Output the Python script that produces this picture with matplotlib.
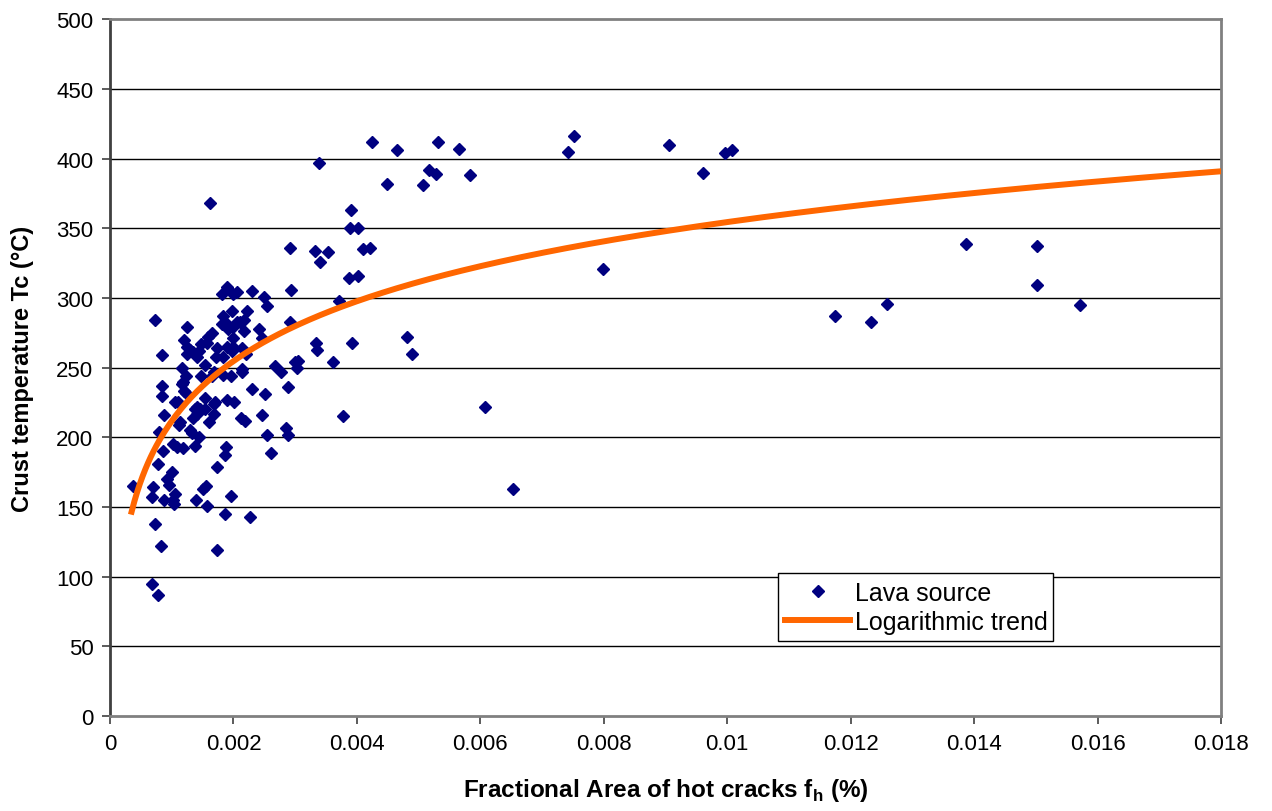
import numpy as np
import matplotlib
matplotlib.use("Agg")
import matplotlib.pyplot as plt

plt.rcParams["font.family"] = ["Liberation Sans", "DejaVu Sans"]
plt.rcParams["mathtext.fontset"] = "custom"
plt.rcParams["mathtext.rm"] = "Liberation Sans"
plt.rcParams["mathtext.bf"] = "Liberation Sans:bold"

# Lava source points: fractional area of hot cracks, crust temperature (deg C)
fh = [
    0.00425, 0.00465, 0.00532, 0.00566, 0.00339, 0.00449, 0.00507, 0.00517, 0.00528, 0.00583,
    0.00742, 0.00752, 0.00906, 0.00961, 0.00997, 0.01008, 0.00799, 0.00653, 0.00608, 0.00481,
    0.00489, 0.00378, 0.00391, 0.00389, 0.00402, 0.00387, 0.00402, 0.00292, 0.00332, 0.00353,
    0.00340, 0.00410, 0.00421, 0.00371, 0.00334, 0.00335, 0.00392, 0.00361, 0.00162, 0.01175,
    0.01233, 0.01259, 0.01387, 0.01501, 0.01501, 0.01572, 0.00293, 0.00292, 0.00300, 0.00305,
    0.00303, 0.00277, 0.00267, 0.00288, 0.00285, 0.00288, 0.00261, 0.00246, 0.00254, 0.00227,
    0.00250, 0.00254, 0.00230, 0.00206, 0.00222, 0.00217, 0.00211, 0.00206, 0.00241, 0.00217,
    0.00246, 0.00214, 0.00214, 0.00230, 0.00251, 0.00212, 0.00219, 0.00190, 0.00182, 0.00199,
    0.00073, 0.00125, 0.00198, 0.00183, 0.00186, 0.00182, 0.00191, 0.00165, 0.00159, 0.00120,
    0.00125, 0.00130, 0.00147, 0.00144, 0.00141, 0.00125, 0.00173, 0.00190, 0.00172, 0.00183,
    0.00084, 0.00117, 0.00154, 0.00123, 0.00117, 0.00147, 0.00165, 0.00183, 0.00084, 0.00084,
    0.00118, 0.00199, 0.00199, 0.00220, 0.00169, 0.00196, 0.00214, 0.00105, 0.00110, 0.00123,
    0.00154, 0.00170, 0.00190, 0.00201, 0.00088, 0.00113, 0.00138, 0.00141, 0.00141, 0.00135,
    0.00154, 0.00160, 0.00169, 0.00079, 0.00129, 0.00133, 0.00144, 0.00086, 0.00102, 0.00109,
    0.00118, 0.00138, 0.00188, 0.00186, 0.00173, 0.00078, 0.00100, 0.00092, 0.00096, 0.00037,
    0.00070, 0.00068, 0.00088, 0.00105, 0.00102, 0.00104, 0.00156, 0.00151, 0.00196, 0.00139,
    0.00157, 0.00186, 0.00073, 0.00083, 0.00173, 0.00068, 0.00078, 0.00169, 0.00112, 0.00157,
    0.00200, 0.00135, 0.00197, 0.00120, 0.00146,
]
tc = [
    412, 406, 412, 407, 397, 382, 381, 392, 389, 388,
    405, 416, 410, 390, 404, 406, 321, 163, 222, 272,
    260, 215, 363, 350, 350, 314, 316, 336, 334, 333,
    326, 335, 336, 298, 268, 263, 268, 254, 368, 287,
    283, 296, 339, 337, 309, 295, 306, 283, 254, 255,
    250, 247, 251, 236, 207, 202, 189, 216, 202, 143,
    301, 294, 305, 304, 291, 284, 283, 283, 278, 276,
    271, 264, 249, 235, 231, 214, 212, 308, 303, 303,
    284, 279, 291, 287, 283, 281, 278, 275, 272, 270,
    265, 263, 267, 262, 258, 260, 264, 265, 258, 258,
    259, 250, 252, 244, 238, 244, 244, 245, 237, 230,
    240, 271, 265, 260, 247, 244, 247, 225, 225, 232,
    228, 225, 227, 225, 216, 211, 220, 222, 217, 214,
    220, 211, 217, 204, 205, 203, 200, 190, 195, 193,
    192, 194, 193, 187, 179, 181, 175, 170, 166, 165,
    164, 157, 155, 159, 155, 152, 165, 163, 158, 155,
    151, 145, 138, 122, 119, 95, 87, 224, 209, 268,
    279, 261, 262, 233, 220,
]

# logarithmic trend  Tc = a*ln(fh) + b
trend_a = 62.0
trend_b = 640.0
trend_x = np.linspace(0.00035, 0.018, 400)

fig = plt.figure(figsize=(12.72, 8.12), dpi=100)
ax = fig.add_axes([0.0865, 0.117, 0.8735, 0.858])

for yv in range(50, 500, 50):
    ax.axhline(yv, color="black", lw=1.0, zorder=0)

ax.plot(fh, tc, linestyle="none", marker="D", markersize=6,
        color="#000080", label="Lava source", zorder=3)
ax.plot(trend_x, trend_a * np.log(trend_x) + trend_b, color="#FF6600",
        lw=4.3, label="Logarithmic trend", zorder=4)

ax.set_xlim(0, 0.018)
ax.set_ylim(0, 500)
ax.set_xticks(np.arange(0, 0.0181, 0.002))
ax.set_xticklabels(["0", "0.002", "0.004", "0.006", "0.008", "0.01",
                    "0.012", "0.014", "0.016", "0.018"])
ax.set_yticks(range(0, 501, 50))
ax.tick_params(axis="both", labelsize=16, length=6, width=1.2,
               direction="out", color="#404040", pad=6)

for s in ["top", "right", "bottom"]:
    ax.spines[s].set_color("#808080")
    ax.spines[s].set_linewidth(2)
ax.spines["left"].set_color("#404040")
ax.spines["left"].set_linewidth(2)

ax.set_ylabel("Crust temperature Tc (°C)", fontsize=17, fontweight="bold")
ax.set_xlabel(r"Fractional Area of hot cracks f$_\mathbf{h}$ (%)", fontsize=17.5,
              fontweight="bold")
ax.yaxis.set_label_coords(-0.079, 0.5)
ax.xaxis.set_label_coords(0.5, -0.106)
ax.xaxis.label.set_verticalalignment("center")
ax.yaxis.label.set_verticalalignment("center")

leg = ax.legend(loc="center", bbox_to_anchor=(0.601, 0.103, 0.248, 0.106),
                mode="expand", fontsize=18, frameon=True, fancybox=False,
                edgecolor="black", framealpha=1, handlelength=2.6,
                borderaxespad=0, borderpad=0.3, labelspacing=0.2, handletextpad=0.2)
leg.get_frame().set_linewidth(1)

fig.savefig("out.png", dpi=100)
